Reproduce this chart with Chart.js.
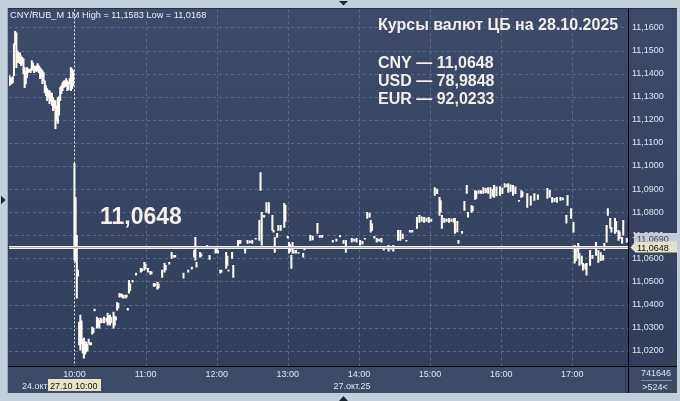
<!DOCTYPE html>
<html>
<head>
<meta charset="utf-8">
<script src="https://cdn.jsdelivr.net/npm/chart.js@4.4.1/dist/chart.umd.min.js"></script>
<style>
  html, body { margin: 0; padding: 0; background: #c3cedb; }
  canvas { display: block; }
</style>
</head>
<body>
<canvas id="quoteChart" width="680" height="401"></canvas>
<script>
// minutes relative to 27.10 10:00 (negative = tail of 24.10 session)
const minutes = [
  -55,-54,-53,-52,-51,-50,-49,-48,-47,-46,-45,-44,-43,-42,-41,-40,-39,-38,-37,-36,
  -35,-34,-33,-32,-31,-30,-29,-28,-27,-26,-25,-24,-23,-22,-21,-20,-19,-18,-17,-16,
  -15,-14,-13,-12,-11,-10,-9,-8,-7,-6,-5,-4,-3,-2,-1,
  0,1,2,3,4,5,6,7,8,9,10,11,12,13,14,15,16,17,19,20,21,22,23,25,27,28,29,30,31,33,34,35,36,37,
  38,39,40,41,43,44,45,46,47,49,52,56,57,59,60,62,64,65,67,68,70,71,74,76,77,80,82,84,85,
  92,96,99,101,102,103,106,107,112,114,119,120,121,123,124,128,129,130,133,134,138,139,140,
  144,146,148,150,153,156,157,158,160,162,164,167,168,169,171,172,174,177,178,180,181,182,
  183,184,185,187,189,193,194,199,201,205,207,209,213,218,221,224,227,229,234,236,238,241,
  243,245,247,249,250,251,253,255,257,259,261,265,267,269,273,275,277,280,283,285,289,291,
  293,295,297,299,301,304,306,308,309,310,312,314,316,318,320,321,323,324,327,329,331,332,
  335,336,338,339,341,343,345,347,349,351,353,354,356,359,361,363,365,366,368,370,372,375,
  377,378,382,385,388,391,399,401,403,405,407,410,412,415,416,419,421,422,423,425,426,428,
  429,431,432,435,437,440,442,444,446,447,449,450,452,453,456,457,459,460,462,463,466
];
const lows = [
  11.1348,11.1352,11.1356,11.1361,11.1391,11.1525,11.1426,11.1447,11.1450,11.1443,11.1434,11.1440,11.1400,11.1339,11.1355,11.1382,11.1404,11.1408,11.1404,11.1413,
  11.1421,11.1404,11.1413,11.1408,11.1413,11.1404,11.1378,11.1385,11.1356,11.1369,11.1318,11.1305,11.1283,11.1296,11.1270,11.1283,11.1262,11.1240,11.1250,11.1162,
  11.1197,11.1184,11.1220,11.1283,11.1313,11.1326,11.1339,11.1343,11.1348,11.1326,11.1330,11.1356,11.1326,11.1335,11.1348,
  11.0592,11.0585,11.0428,11.0523,11.0225,11.0203,11.0230,11.0190,11.0168,11.0185,11.0195,11.0200,11.0233,11.0225,11.0225,11.0272,11.0278,11.0372,11.0298,11.0305,11.0298,11.0320,11.0322,11.0320,11.0325,11.0311,11.0318,11.0311,11.0320,11.0298,11.0310,11.0333,11.0376,11.0385,
  11.0432,11.0436,11.0432,11.0428,11.0428,11.0432,11.0376,11.0449,11.0460,11.0497,11.0527,11.0540,11.0545,11.0549,11.0555,11.0540,11.0531,11.0533,11.0479,11.0481,11.0467,11.0472,11.0518,11.0540,11.0550,11.0575,11.0600,11.0605,11.0605,
  11.0514,11.0540,11.0553,11.0605,11.0592,11.0562,11.0605,11.0610,11.0648,11.0596,11.0622,11.0626,11.0622,11.0536,11.0540,11.0557,11.0570,11.0545,11.0600,11.0518,11.0648,11.0665,11.0665,
  11.0622,11.0665,11.0667,11.0665,11.0683,11.0678,11.0894,11.0657,11.0778,11.0799,11.0795,11.0721,11.0713,11.0626,11.0691,11.0721,11.0721,11.0734,11.0760,11.0687,11.0622,11.0630,
  11.0557,11.0622,11.0622,11.0622,11.0622,11.0605,11.0637,11.0678,11.0680,11.0708,11.0691,11.0691,11.0644,11.0670,11.0674,11.0693,11.0665,11.0626,11.0670,11.0674,11.0670,11.0657,
  11.0661,11.0683,11.0773,11.0778,11.0713,11.0720,11.0687,11.0670,11.0674,11.0670,11.0635,11.0631,11.0640,11.0631,11.0678,11.0678,11.0685,11.0674,11.0713,11.0713,11.0730,11.0756,
  11.0760,11.0756,11.0760,11.0756,11.0760,11.0873,11.0880,11.0786,11.0800,11.0730,11.0756,11.0760,11.0756,11.0760,11.0756,11.0708,11.0715,11.0665,11.0708,11.0808,11.0881,11.0778,
  11.0799,11.0805,11.0855,11.0860,11.0881,11.0881,11.0881,11.0885,11.0881,11.0860,11.0868,11.0864,11.0870,11.0873,11.0880,11.0907,11.0910,11.0886,11.0890,11.0873,11.0880,11.0847,
  11.0864,11.0868,11.0821,11.0830,11.0851,11.0855,11.0860,11.0865,11.0842,11.0845,11.0842,11.0851,11.0853,11.0752,11.0829,11.0773,11.0713,11.0579,11.0590,11.0600,11.0570,11.0575,
  11.0549,11.0553,11.0527,11.0570,11.0600,11.0613,11.0583,11.0590,11.0592,11.0635,11.0670,11.0786,11.0730,11.0713,11.0708,11.0715,11.0678,11.0685,11.0665,11.0700,11.0670
];
const highs = [
  11.1391,11.1385,11.1378,11.1387,11.1529,11.1583,11.1577,11.1499,11.1490,11.1490,11.1477,11.1470,11.1464,11.1426,11.1410,11.1426,11.1421,11.1417,11.1421,11.1456,
  11.1447,11.1434,11.1430,11.1434,11.1443,11.1434,11.1426,11.1420,11.1413,11.1404,11.1369,11.1348,11.1335,11.1326,11.1326,11.1318,11.1315,11.1296,11.1283,11.1283,
  11.1261,11.1296,11.1300,11.1339,11.1348,11.1361,11.1369,11.1369,11.1378,11.1369,11.1361,11.1378,11.1426,11.1421,11.1413,
  11.1011,11.0864,11.0700,11.0549,11.0324,11.0354,11.0330,11.0250,11.0255,11.0240,11.0238,11.0230,11.0251,11.0233,11.0235,11.0302,11.0298,11.0380,11.0346,11.0340,11.0330,11.0341,11.0338,11.0346,11.0340,11.0363,11.0350,11.0354,11.0345,11.0367,11.0350,11.0346,11.0410,11.0405,
  11.0449,11.0445,11.0445,11.0441,11.0441,11.0441,11.0384,11.0505,11.0490,11.0505,11.0536,11.0557,11.0555,11.0583,11.0575,11.0557,11.0544,11.0542,11.0492,11.0490,11.0497,11.0490,11.0549,11.0579,11.0570,11.0583,11.0626,11.0613,11.0613,
  11.0536,11.0549,11.0562,11.0635,11.0691,11.0583,11.0626,11.0620,11.0657,11.0613,11.0644,11.0640,11.0635,11.0549,11.0549,11.0626,11.0610,11.0549,11.0626,11.0570,11.0678,11.0678,11.0678,
  11.0644,11.0678,11.0676,11.0678,11.0687,11.0765,11.0972,11.0799,11.0786,11.0842,11.0842,11.0786,11.0721,11.0691,11.0708,11.0743,11.0743,11.0838,11.0830,11.0695,11.0670,11.0660,
  11.0613,11.0670,11.0635,11.0635,11.0626,11.0622,11.0644,11.0700,11.0696,11.0752,11.0700,11.0700,11.0648,11.0678,11.0683,11.0700,11.0678,11.0678,11.0687,11.0683,11.0687,11.0678,
  11.0674,11.0687,11.0799,11.0795,11.0765,11.0750,11.0695,11.0687,11.0683,11.0687,11.0648,11.0657,11.0652,11.0657,11.0721,11.0721,11.0705,11.0678,11.0721,11.0721,11.0778,11.0786,
  11.0780,11.0778,11.0775,11.0778,11.0770,11.0907,11.0900,11.0864,11.0850,11.0786,11.0773,11.0770,11.0773,11.0770,11.0773,11.0773,11.0760,11.0678,11.0717,11.0847,11.0916,11.0799,
  11.0829,11.0825,11.0894,11.0890,11.0894,11.0894,11.0907,11.0903,11.0907,11.0907,11.0900,11.0916,11.0910,11.0911,11.0905,11.0924,11.0920,11.0924,11.0918,11.0916,11.0910,11.0851,
  11.0894,11.0888,11.0881,11.0870,11.0881,11.0875,11.0903,11.0895,11.0864,11.0860,11.0864,11.0864,11.0862,11.0786,11.0873,11.0816,11.0756,11.0657,11.0640,11.0665,11.0622,11.0610,
  11.0579,11.0575,11.0579,11.0635,11.0613,11.0670,11.0635,11.0625,11.0613,11.0665,11.0743,11.0816,11.0773,11.0734,11.0773,11.0760,11.0721,11.0715,11.0691,11.0765,11.0687
];

const yTicks = [11.02, 11.03, 11.04, 11.05, 11.06, 11.07, 11.08, 11.09, 11.10, 11.11, 11.12, 11.13, 11.14, 11.15, 11.16];
const hourTicks = [0, 60, 120, 180, 240, 300, 360, 420];
const hourLabels = ['10:00', '11:00', '12:00', '13:00', '14:00', '15:00', '16:00', '17:00'];

const cbRate = 11.0648;
const lastPrice = 11.0690;
const infoLine = 'CNY/RUB_M 1M High = 11,1583 Low = 11,0168';
const cbTitle = 'Курсы валют ЦБ на 28.10.2025';
const cbLines = ['CNY — 11,0648', 'USD — 78,9848', 'EUR — 92,0233'];

const FONT = '"Liberation Sans", Arial, sans-serif';
const fmt = v => v.toFixed(4).replace('.', ',');

const bars = minutes.map((m, i) => ({ x: m, y: [lows[i], highs[i]] }));

function tri(ctx, pts) {
  ctx.beginPath();
  ctx.moveTo(pts[0], pts[1]);
  ctx.lineTo(pts[2], pts[3]);
  ctx.lineTo(pts[4], pts[5]);
  ctx.closePath();
  ctx.fill();
}

const terminalLook = {
  id: 'terminalLook',
  beforeDraw(chart) {
    const ctx = chart.ctx;
    ctx.save();
    ctx.fillStyle = '#c3cedb';
    ctx.fillRect(0, 0, 680, 401);
    const g = ctx.createLinearGradient(0, 8, 0, 393);
    g.addColorStop(0, '#3d4a68');
    g.addColorStop(1, '#313e5a');
    ctx.fillStyle = g;
    ctx.fillRect(8, 8, 669, 385);
    ctx.fillStyle = '#3e4b67';
    ctx.fillRect(8, 367, 669, 26);
    ctx.restore();
  },
  beforeDatasetsDraw(chart) {
    const { ctx, chartArea: a, scales } = chart;
    ctx.save();
    ctx.lineWidth = 1;
    ctx.strokeStyle = '#5b6b8d';
    ctx.setLineDash([3, 3]);
    ctx.beginPath();
    scales.y.ticks.forEach(t => {
      const y = Math.round(scales.y.getPixelForValue(t.value)) + 0.5;
      ctx.moveTo(a.left, y);
      ctx.lineTo(a.right, y);
    });
    scales.x.ticks.forEach(t => {
      if (t.value === 0) return;
      const x = Math.round(scales.x.getPixelForValue(t.value)) + 0.5;
      ctx.moveTo(x, a.top);
      ctx.lineTo(x, a.bottom + 3);
    });
    ctx.stroke();
    // day separator (white dotted) at 10:00
    const x0 = Math.round(scales.x.getPixelForValue(0)) + 0.5;
    ctx.strokeStyle = '#ececec';
    ctx.setLineDash([2, 2]);
    ctx.beginPath();
    ctx.moveTo(x0, a.top);
    ctx.lineTo(x0, a.bottom);
    ctx.stroke();
    ctx.restore();
  },
  afterDatasetsDraw(chart) {
    const { ctx, chartArea: a } = chart;
    const y = Math.round(chart.scales.y.getPixelForValue(cbRate));
    ctx.save();
    ctx.fillStyle = '#a9a6ad';
    ctx.fillRect(a.left, y - 1, a.right - a.left, 3);
    ctx.fillStyle = '#f2f0ee';
    ctx.fillRect(a.left, y - 1, a.right - a.left, 1);
    ctx.fillRect(a.left, y + 1, a.right - a.left, 1);
    ctx.restore();
  },
  afterDraw(chart) {
    const { ctx, chartArea: a } = chart;
    const ys = chart.scales.y;
    ctx.save();

    // panel borders
    ctx.fillStyle = '#27314a';
    ctx.fillRect(8, 8, 669, 1);
    ctx.fillStyle = '#9eabbd';
    ctx.fillRect(7, 8, 1, 385);
    ctx.fillStyle = '#000';
    ctx.fillRect(8, a.bottom, 669, 1);
    ctx.fillRect(a.right, 9, 1, 384);
    ctx.fillStyle = '#2a3550';
    ctx.fillRect(a.right - 3, a.bottom + 1, 1, 26);

    // info line
    ctx.fillStyle = '#eceff4';
    ctx.font = '9.2px ' + FONT;
    ctx.textBaseline = 'alphabetic';
    ctx.textAlign = 'left';
    ctx.fillText(infoLine, 10, 17.5);

    // big rate label
    ctx.fillStyle = '#f3eee8';
    ctx.font = 'bold 23px ' + FONT;
    ctx.fillText(fmt(cbRate), 100, 224);

    // CB block
    ctx.font = 'bold 16px ' + FONT;
    ctx.fillText(cbTitle, 378, 29.5);
    cbLines.forEach((s, i) => ctx.fillText(s, 378, 68 + i * 18));

    // right-axis price boxes
    const yl = Math.round(ys.getPixelForValue(cbRate));
    ctx.font = '9px ' + FONT;
    ctx.fillStyle = '#c5cad4';
    ctx.fillRect(634, yl - 14, 43, 10);
    ctx.fillStyle = '#39445a';
    ctx.fillText(fmt(lastPrice), 637, yl - 5);
    ctx.fillStyle = '#e3e1c7';
    ctx.beginPath();
    ctx.moveTo(630.5, yl + 0.5);
    ctx.lineTo(635.5, yl - 5.5);
    ctx.lineTo(677, yl - 5.5);
    ctx.lineTo(677, yl + 5.5);
    ctx.lineTo(635.5, yl + 5.5);
    ctx.closePath();
    ctx.fill();
    ctx.fillStyle = '#111';
    ctx.fillText(fmt(cbRate), 637, yl + 4);

    // date row under hours
    ctx.fillStyle = '#dfe5ee';
    ctx.fillText('24.окт', 22, 389);
    ctx.textAlign = 'center';
    ctx.fillText('27.окт.25', 352, 389);
    ctx.fillStyle = '#e6e4c9';
    ctx.fillRect(48, 379, 53, 12);
    ctx.fillStyle = '#111';
    ctx.textAlign = 'left';
    ctx.fillText('27.10 10:00', 50, 389);

    // counters bottom right
    ctx.fillStyle = '#dfe5ee';
    ctx.textAlign = 'center';
    ctx.fillText('741646', 656, 376);
    ctx.fillText('>524<', 655, 390);
    ctx.fillStyle = '#7d8aa2';
    ctx.fillRect(641, 380, 31, 1);

    // frame arrows
    ctx.fillStyle = '#1d2638';
    tri(ctx, [339, 1, 348, 1, 343.5, 5.5]);
    tri(ctx, [1, 195.5, 1, 204.5, 5.5, 200]);
    tri(ctx, [339, 401, 348, 401, 343.5, 396]);
    ctx.restore();
  }
};

new Chart(document.getElementById('quoteChart'), {
  type: 'bar',
  data: {
    datasets: [{
      label: 'CNY/RUB_M',
      data: bars,
      backgroundColor: '#fdf8f0',
      borderWidth: 0,
      barThickness: 1.4,
      grouped: false
    }]
  },
  options: {
    responsive: false,
    devicePixelRatio: 1,
    animation: false,
    layout: { padding: { left: 9, top: 9, right: 3, bottom: 8 } },
    plugins: {
      legend: { display: false },
      tooltip: { enabled: false },
      title: { display: false }
    },
    scales: {
      x: {
        type: 'linear',
        offset: false,
        min: -55.2,
        max: 467,
        afterBuildTicks: s => { s.ticks = hourTicks.map(v => ({ value: v })); },
        afterFit: s => { s.height = 27; },
        ticks: {
          autoSkip: false,
          maxRotation: 0,
          padding: 3,
          color: '#dfe5ee',
          font: { family: FONT, size: 9 },
          callback: v => hourLabels[hourTicks.indexOf(v)]
        },
        grid: { display: false, drawTicks: false },
        border: { display: false }
      },
      y: {
        position: 'right',
        min: 11.0134,
        max: 11.1678,
        afterBuildTicks: s => { s.ticks = yTicks.map(v => ({ value: v })); },
        afterFit: s => { s.width = 49; },
        ticks: {
          autoSkip: false,
          padding: 4,
          color: '#dfe5ee',
          font: { family: FONT, size: 9 },
          callback: v => fmt(v)
        },
        grid: { display: false, drawTicks: false },
        border: { display: false }
      }
    }
  },
  plugins: [terminalLook]
});
</script>
</body>
</html>
